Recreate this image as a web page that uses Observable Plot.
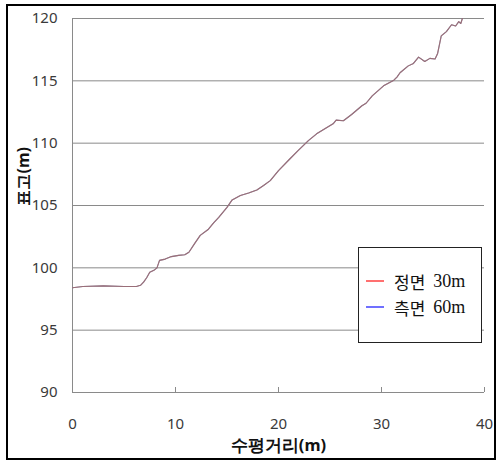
<!DOCTYPE html>
<html>
<head>
<meta charset="utf-8">
<script src="https://cdn.jsdelivr.net/npm/d3@7"></script>
<script src="https://cdn.jsdelivr.net/npm/@observablehq/plot@0.6"></script>
<style>
  html, body { margin: 0; padding: 0; background: #fff; }
  #wrap { position: relative; width: 496px; height: 460px; overflow: hidden; }
  #border { position: absolute; left: 6px; top: 4px; width: 490px; height: 456px; border: 2px solid #000; box-sizing: border-box; pointer-events: none; }
  #legend { position: absolute; left: 358px; top: 247px; width: 124px; height: 96px; border: 1.5px solid #222; background: #fff; box-sizing: border-box; }
  .item { position: absolute; left: 7px; height: 20px; display: flex; align-items: center; font-family: "Noto Sans CJK KR", sans-serif; font-size: 17px; color: #111; white-space: pre; }
  .item svg { margin-right: 10px; }
  .num { font-family: "Liberation Serif", "DejaVu Serif", serif; font-size: 18px; margin-left: 8px; }
</style>
</head>
<body>
<div id="wrap">
  <div id="chart"></div>
  <div id="legend"></div>
  <div id="border"></div>
</div>
<script>
// Horizontal distance (m)
const distance = [0, 1, 3, 5, 6.2, 6.6, 6.9, 7.2, 7.5, 7.9, 8.2, 8.45, 9.0, 9.6, 10.3, 10.9, 11.3, 11.9, 12.4, 13.2, 13.7, 14.2, 15.0, 15.5, 16.3, 17.1, 17.9, 18.55, 19.2, 20.0, 21.0, 21.9, 22.9, 23.7, 24.5, 25.3, 25.6, 26.3, 27.1, 28.1, 28.5, 29.1, 30.2, 31.2, 31.5, 31.8, 32.6, 33.1, 33.6, 34.2, 34.7, 35.2, 35.45, 35.8, 36.3, 36.8, 37.2, 37.5, 37.7, 37.85];
// Elevation (m), 정면 30m
const frontElev = [98.4, 98.5, 98.55, 98.5, 98.5, 98.6, 98.85, 99.2, 99.65, 99.8, 100.0, 100.6, 100.7, 100.9, 101.0, 101.05, 101.25, 102.0, 102.6, 103.1, 103.6, 104.05, 104.85, 105.45, 105.8, 106.0, 106.25, 106.6, 107.0, 107.8, 108.65, 109.4, 110.2, 110.75, 111.15, 111.55, 111.85, 111.8, 112.3, 113.0, 113.2, 113.8, 114.6, 115.05, 115.3, 115.65, 116.2, 116.4, 116.9, 116.55, 116.8, 116.75, 117.2, 118.6, 118.95, 119.5, 119.4, 119.75, 119.6, 120.0];
// Elevation (m), 측면 60m
const sideElev = [98.4, 98.5, 98.55, 98.5, 98.5, 98.6, 98.85, 99.2, 99.65, 99.8, 100.0, 100.6, 100.7, 100.9, 101.0, 101.05, 101.25, 102.0, 102.6, 103.1, 103.6, 104.05, 104.85, 105.45, 105.8, 106.0, 106.25, 106.6, 107.0, 107.8, 108.65, 109.4, 110.2, 110.75, 111.15, 111.55, 111.85, 111.8, 112.3, 113.0, 113.2, 113.8, 114.6, 115.05, 115.3, 115.65, 116.2, 116.4, 116.9, 116.55, 116.8, 116.75, 117.2, 118.6, 118.95, 119.5, 119.4, 119.75, 119.6, 120.0];

const seriesNames = ["정면", "측면"];
const seriesSizes = ["30m", "60m"];
const seriesColors = ["#ff4040", "#4040ff"];
const xTicks = [0, 10, 20, 30, 40];
const yTicks = [90, 95, 100, 105, 110, 115, 120];
const xLabel = ["수평거리(m)"];
const yLabel = ["표고(m)"];

const rows = distance.map((d, i) => ({d, front: frontElev[i], side: sideElev[i]}));

const chart = Plot.plot({
  width: 496,
  height: 460,
  marginLeft: 72,
  marginRight: 12,
  marginTop: 18,
  marginBottom: 68,
  x: {domain: [0, 40]},
  y: {domain: [90, 120]},
  style: {fontFamily: "'Noto Sans', sans-serif", fontSize: "15px", color: "#3a3a3a", background: "transparent"},
  marks: [
    Plot.ruleY(yTicks, {stroke: "#8a8a8a", strokeWidth: 1}),
    Plot.ruleX([xTicks[0]], {stroke: "#8a8a8a", strokeWidth: 1}),
    Plot.ruleX(xTicks.slice(1), {y1: yTicks[0], y2: yTicks[0] + 0.4, stroke: "#8a8a8a"}),
    Plot.axisY(yTicks, {tickSize: 0, tickPadding: 15, label: null, fontSize: 15}),
    Plot.axisX(xTicks, {tickSize: 0, tickPadding: 26, label: null, fontSize: 15}),
    Plot.line(rows, {x: "d", y: "side", stroke: "#78789a", strokeWidth: 1.1}),
    Plot.line(rows, {x: "d", y: "front", stroke: "#a86a6a", strokeWidth: 1.1, strokeOpacity: 0.7}),
    Plot.text(xLabel, {text: d => d, frameAnchor: "bottom", dy: 58, fontWeight: "bold", fontSize: 16.5, fill: "#111"}),
    Plot.text(yLabel, {text: d => d, frameAnchor: "left", dx: -49, rotate: -90, fontWeight: "bold", fontSize: 16, fill: "#111"})
  ]
});
document.getElementById("chart").appendChild(chart);

const legend = document.getElementById("legend");
const NS = "http://www.w3.org/2000/svg";
seriesNames.forEach((name, i) => {
  const item = document.createElement("div");
  item.className = "item";
  item.style.top = (23 + i * 26) + "px";
  const sw = document.createElementNS(NS, "svg");
  sw.setAttribute("width", "18");
  sw.setAttribute("height", "4");
  const ln = document.createElementNS(NS, "line");
  ln.setAttribute("x1", "0"); ln.setAttribute("x2", "18");
  ln.setAttribute("y1", "2"); ln.setAttribute("y2", "2");
  ln.setAttribute("stroke", seriesColors[i]);
  ln.setAttribute("stroke-width", "1.5");
  sw.appendChild(ln);
  item.appendChild(sw);
  item.appendChild(document.createTextNode(name));
  const num = document.createElement("span");
  num.className = "num";
  num.textContent = seriesSizes[i];
  item.appendChild(num);
  legend.appendChild(item);
});
</script>
</body>
</html>
